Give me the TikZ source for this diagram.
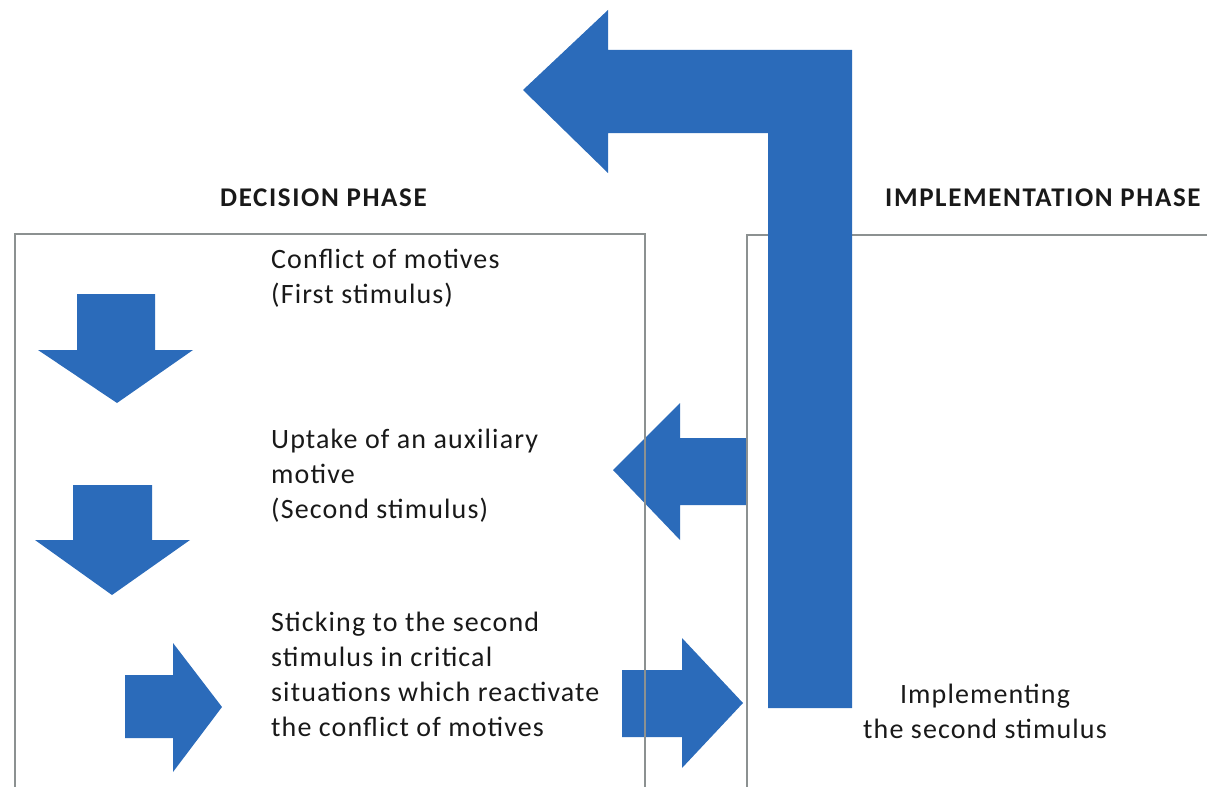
\documentclass[tikz,border=0pt]{standalone}
\usepackage{fontspec}
\setmainfont{Carlito}
\newfontfamily\bodyfont[LetterSpace=4]{Carlito}
\newfontfamily\headfont[LetterSpace=6]{Carlito}
\definecolor{arrowblue}{RGB}{43,107,186}
\definecolor{boxgray}{RGB}{140,145,145}
\definecolor{txt}{RGB}{25,25,25}
\begin{document}
\begin{tikzpicture}[x=1bp,y=-1bp,
  blockarrow/.style={fill=arrowblue,draw=none},
  phasebox/.style={draw=boxgray,line width=2bp},
  body/.style={inner sep=0pt,text=txt,font=\bodyfont\fontsize{28bp}{35bp}\selectfont},
  heading/.style={inner sep=0pt,text=txt,font=\headfont\fontsize{27bp}{30bp}\selectfont\bfseries}]
\useasboundingbox (0,0) rectangle (1207,787);
% small arrows
\fill[blockarrow] (77,294) -- (155,294) -- (155,350) -- (193,350) -- (117,403) -- (38,350) -- (77,350) -- cycle;
\fill[blockarrow] (73,485) -- (152,485) -- (152,540) -- (190,540) -- (112,595) -- (35,540) -- (73,540) -- cycle;
\fill[blockarrow] (125,675) -- (173,675) -- (173,643) -- (222,707) -- (173,772) -- (173,738) -- (125,738) -- cycle;
\fill[blockarrow] (613,470) -- (680,403) -- (680,438) -- (747,438) -- (747,505) -- (680,505) -- (680,540) -- cycle;
\fill[blockarrow] (622,670) -- (682,670) -- (682,638) -- (743,703) -- (682,768) -- (682,737) -- (622,737) -- cycle;
% boxes
\draw[phasebox] (15,800) -- (15,234) -- (645,234) -- (645,800);
\draw[phasebox] (747,800) -- (747,235) -- (1220,235);
% big bent arrow
\fill[blockarrow] (523,90) -- (608,10) -- (608,50) -- (852,50) -- (852,708) -- (768,708) -- (768,133) -- (608,133) -- (608,173) -- cycle;
% texts
\node[heading,anchor=west] (dec) at (220,198) {DECISION PHASE};
\node[heading,anchor=west] (imp) at (885,198) {IMPLEMENTATION PHASE};
\node[body,anchor=west,align=left] (t1) at (271,278) {Conflict of motives\\(First stimulus)};
\node[body,anchor=west,align=left] (t2) at (271,476) {Uptake of an auxiliary\\motive\\(Second stimulus)};
\node[body,anchor=west,align=left] (t3) at (271,674) {Sticking to the second\\stimulus in critical\\situations which reactivate\\the conflict of motives};
\node[body,align=center] (t4) at (985,711) {Implementing\\the second stimulus};
\end{tikzpicture}
\end{document}
